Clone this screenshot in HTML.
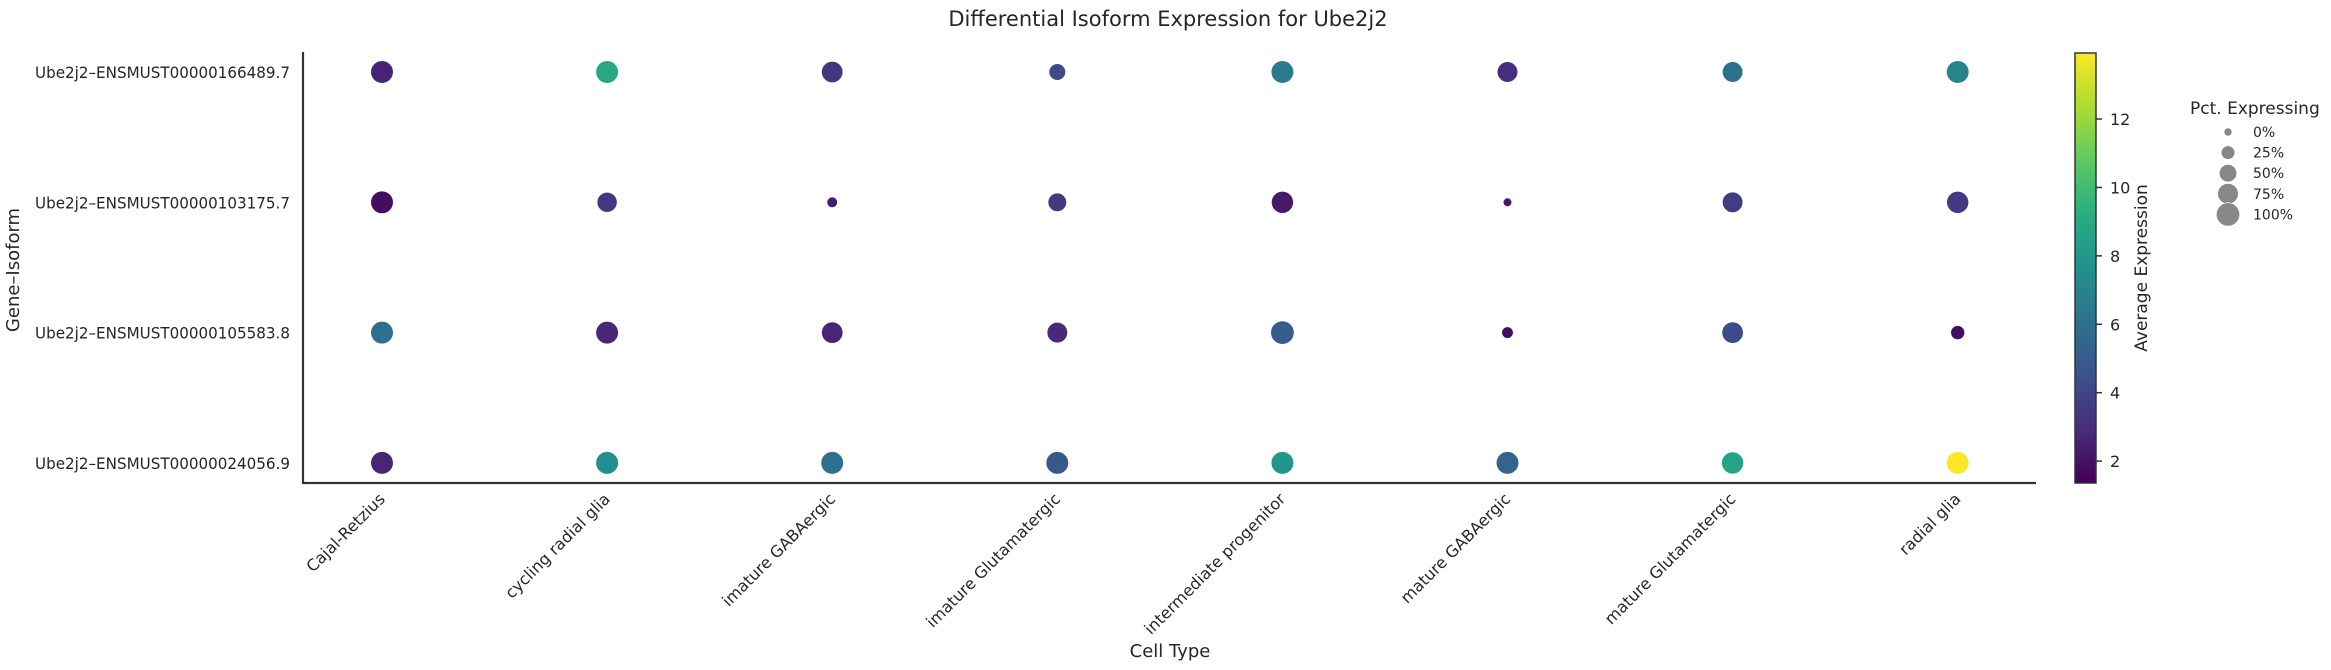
<!DOCTYPE html>
<html><head><meta charset="utf-8"><style>
body{margin:0;background:#fff}
svg{display:block}
text{font-family:"DejaVu Sans","Liberation Sans",sans-serif;fill:#262626}
</style></head><body>
<svg id="chart" width="2331" height="670" viewBox="0 0 2331 670" xmlns="http://www.w3.org/2000/svg">
<defs><linearGradient id="vir" x1="0" y1="1" x2="0" y2="0">
<stop offset="0" stop-color="#440154"/><stop offset="0.125" stop-color="#472d7b"/><stop offset="0.25" stop-color="#3b528b"/><stop offset="0.375" stop-color="#2c728e"/><stop offset="0.5" stop-color="#21918c"/><stop offset="0.625" stop-color="#28ae80"/><stop offset="0.75" stop-color="#5ec962"/><stop offset="0.875" stop-color="#addc30"/><stop offset="1" stop-color="#fde725"/></linearGradient></defs>
<text x="1168" y="26" font-size="21" text-anchor="middle">Differential Isoform Expression for Ube2j2</text>
<g id="plot"></g>
<line x1="303" y1="52" x2="303" y2="484" stroke="#333" stroke-width="2.2"/>
<line x1="302" y1="483" x2="2036" y2="483" stroke="#333" stroke-width="2.2"/>
<text transform="translate(19,270) rotate(-90)" font-size="18" text-anchor="middle">Gene–Isoform</text>
<text x="1170" y="657" font-size="18" text-anchor="middle">Cell Type</text>
<rect x="2075" y="53" width="21" height="430" fill="url(#vir)" stroke="#333" stroke-width="1.5"/>
<g id="cbticks"></g>
<text transform="translate(2147,268) rotate(-90)" font-size="17" text-anchor="middle">Average Expression</text>
<text x="2190" y="114" font-size="17">Pct. Expressing</text>
<g id="legend"></g>
</svg>
<script>
const cellTypes=["Cajal-Retzius","cycling radial glia","imature GABAergic","imature Glutamatergic","intermediate progenitor","mature GABAergic","mature Glutamatergic","radial glia"];
const isoforms=["Ube2j2–ENSMUST00000166489.7","Ube2j2–ENSMUST00000103175.7","Ube2j2–ENSMUST00000105583.8","Ube2j2–ENSMUST00000024056.9"];
const avgExpr=[
[2.6,8.9,3.3,4.2,6.6,3.0,6.0,7.0],
[1.8,3.3,2.4,3.5,2.2,2.2,3.6,3.5],
[6.0,2.8,2.7,2.8,5.0,1.8,4.2,1.8],
[2.7,7.6,6.0,4.8,7.9,5.4,8.6,13.9]];
const pctExpr=[
[92,92,81,44,92,74,74,92],
[92,70,10,58,87,2,74,87],
[92,92,81,74,100,14,81,27],
[92,92,92,92,92,92,87,92]];
const cbTicks=[2,4,6,8,10,12];
const legendPcts=[0,25,50,75,100];
const legendLabels=["0%","25%","50%","75%","100%"];
const cmin=1.36,cmax=13.93;
const NS="http://www.w3.org/2000/svg";
const xPos=i=>382+i*225.1;
const yPos=j=>72+j*130.3;
const rOf=p=>Math.sqrt(16+1.21*p);
const cbY=v=>483-(v-cmin)/(cmax-cmin)*430;
const vir=["#440154","#472d7b","#3b528b","#2c728e","#21918c","#28ae80","#5ec962","#addc30","#fde725"];
function hx(h){return [1,3,5].map(k=>parseInt(h.substr(k,2),16));}
function color(v){let t=Math.max(0,Math.min(1,(v-cmin)/(cmax-cmin)))*8;let i=Math.min(7,Math.floor(t)),f=t-i;const a=hx(vir[i]),b=hx(vir[i+1]);return "rgb("+a.map((c,k)=>Math.round(c+(b[k]-c)*f)).join(",")+")";}
function mk(tag,attrs,parent){const e=document.createElementNS(NS,tag);for(const k in attrs)e.setAttribute(k,attrs[k]);parent.appendChild(e);return e;}
const plot=document.getElementById('plot');
isoforms.forEach((iso,j)=>{
  const t=mk('text',{x:290,y:yPos(j)+6,'font-size':16,'text-anchor':'end',textLength:255,lengthAdjust:'spacingAndGlyphs'},plot);
  
  
  t.textContent=iso;
});
cellTypes.forEach((c,i)=>{
  const t=mk('text',{transform:`translate(${xPos(i)+4},${500}) rotate(-45)`,'font-size':16,'text-anchor':'end'},plot);
  
  
  t.textContent=c;
});
isoforms.forEach((iso,j)=>cellTypes.forEach((c,i)=>{
  const d=mk('circle',{cx:xPos(i),cy:yPos(j),r:rOf(pctExpr[j][i]).toFixed(2),fill:color(avgExpr[j][i]),stroke:'#fff','stroke-width':0.6},plot);
  
  
}));
const cbt=document.getElementById('cbticks');
cbTicks.forEach(v=>{
  const l=mk('line',{x1:2096,x2:2102,y1:cbY(v),y2:cbY(v),stroke:'#333','stroke-width':1.5},cbt);
  
  
  const t=mk('text',{x:2110,y:cbY(v)+6,'font-size':16},cbt);
  
  
  t.textContent=v;
});
const lg=document.getElementById('legend');
legendPcts.forEach((p,k)=>{
  const y=132+k*20.6;
  const c=mk('circle',{cx:2228,cy:y,r:rOf(p).toFixed(2),fill:'#888',stroke:'#fff','stroke-width':0.6},lg);
  
  
  const t=mk('text',{x:2253,y:y+5,'font-size':14},lg);
  
  
  t.textContent=legendLabels[k];
});
</script>
</body></html>
